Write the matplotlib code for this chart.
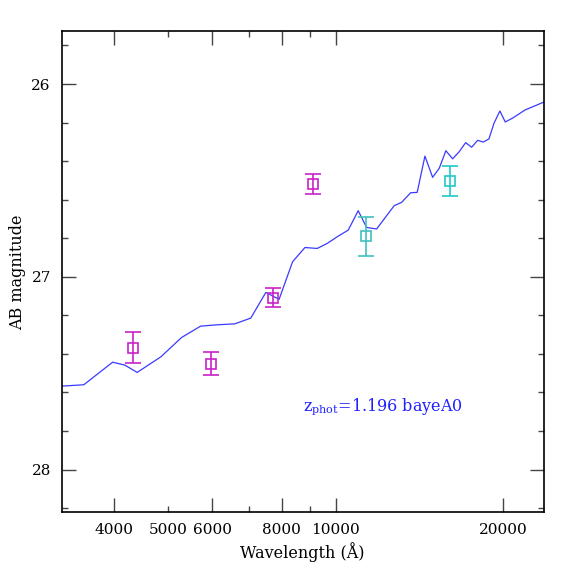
import matplotlib
matplotlib.use("Agg")
import matplotlib.pyplot as plt
from matplotlib.ticker import FixedLocator, FuncFormatter, NullFormatter

# Model spectrum (wavelength in Angstrom, AB magnitude)
sed_wave = [3220, 3524, 3971, 4177, 4396, 4850, 5283, 5716, 6124, 6589, 7039,
            7491, 7914, 8368, 8808, 9266, 9658, 10109, 10537, 10982, 11371,
            11852, 12749, 13145, 13646, 14022, 14478, 14947, 15363, 15790,
            16237, 16689, 17138, 17569, 18012, 18436, 18873, 19270, 19750,
            20195, 20868, 21909, 23636]
sed_mag = [27.567, 27.560, 27.443, 27.458, 27.496, 27.415, 27.315, 27.256,
           27.249, 27.244, 27.214, 27.081, 27.117, 26.922, 26.848, 26.853,
           26.827, 26.789, 26.758, 26.657, 26.744, 26.752, 26.631, 26.614,
           26.564, 26.562, 26.374, 26.484, 26.437, 26.346, 26.388, 26.351,
           26.304, 26.328, 26.292, 26.301, 26.285, 26.204, 26.140, 26.197,
           26.175, 26.135, 26.095]

# Photometric points
phot_wave = [4323, 5965, 7722, 9092, 11336, 16076]
phot_mag = [27.368, 27.450, 27.109, 26.519, 26.790, 26.502]
phot_err = [0.080, 0.060, 0.050, 0.050, 0.100, 0.078]
phot_color = ['#C822C8', '#C822C8', '#C822C8', '#C822C8', '#40C0C0', '#20C8C8']

x_major = [4000, 6000, 8000, 10000, 20000]
x_minor = [5000, 7000, 9000]
y_major = [26, 27, 28]

plt.rcParams['font.family'] = ['DejaVu Serif']
plt.rcParams['mathtext.fontset'] = 'dejavuserif'

fig = plt.figure(figsize=(5.74, 5.74), dpi=100)
ax = fig.add_axes([62/574, 62/574, 481.5/574, 481/574])

ax.plot(sed_wave, sed_mag, color='#3a3aff', lw=0.9)
for w, m, e, c in zip(phot_wave, phot_mag, phot_err, phot_color):
    ax.errorbar([w], [m], yerr=[e], fmt='s', mfc='none', mec=c, ecolor=c,
                ms=7.5, mew=1.2, elinewidth=1.2, capsize=6, capthick=1.2)

ax.set_xscale('log')
ax.set_xlim(3220, 23660)
ax.set_ylim(28.22, 25.725)

ax.xaxis.set_major_locator(FixedLocator(x_major))
ax.xaxis.set_major_formatter(FuncFormatter(lambda v, p: f"{int(round(v))}"))
ax.xaxis.set_minor_locator(FixedLocator(x_minor))
ax.xaxis.set_minor_formatter(FuncFormatter(lambda v, p: "5000" if abs(v - 5000) < 1 else ""))
ax.yaxis.set_major_locator(FixedLocator(y_major))
ax.yaxis.set_minor_locator(FixedLocator([25.8, 26.2, 26.4, 26.6, 26.8, 27.2, 27.4,
                                         27.6, 27.8, 28.2]))
ax.yaxis.set_minor_formatter(NullFormatter())

ax.tick_params(which='both', direction='in', top=True, right=True,
               labelsize=11, color='#444444')
ax.tick_params(which='major', length=10, width=1, pad=8)
ax.tick_params(which='minor', length=4.5, width=1, pad=8)
for s in ax.spines.values():
    s.set_linewidth(1.2)

ax.text(0.5, 0.212, r'z$_{\rm phot}$=1.196 bayeA0', transform=ax.transAxes,
        color='#2020ff', fontsize=11.5, va='baseline', ha='left')

fig.text(302.75/574, 1 - 552/574, 'Wavelength (Å)', ha='center', va='center',
         fontsize=11.5)
fig.text(18/574, 1 - 272/574, 'AB magnitude', ha='center', va='center',
         rotation=90, fontsize=11.5)

fig.savefig('out.png', dpi=100)
